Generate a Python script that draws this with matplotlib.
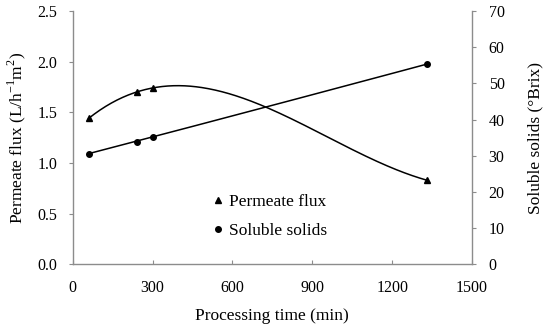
import numpy as np
import matplotlib
matplotlib.use("Agg")
from matplotlib import pyplot as plt

time_min = [60, 240, 300, 1330]
flux = [1.44, 1.70, 1.74, 0.83]
solids = [30.6, 33.9, 35.3, 55.3]

x_ticks = [0, 300, 600, 900, 1200, 1500]
flux_ticks = [0.0, 0.5, 1.0, 1.5, 2.0, 2.5]
solids_ticks = [0, 10, 20, 30, 40, 50, 60, 70]

plt.rcParams['font.family'] = ['Liberation Serif', 'DejaVu Serif']
plt.rcParams['font.size'] = 11.5
plt.rcParams['mathtext.fontset'] = 'custom'
plt.rcParams['mathtext.rm'] = 'Liberation Serif'

spine_col = '#8c8c8c'

fig = plt.figure(figsize=(5.5, 3.32), dpi=100)
ax = fig.add_axes([0.1322, 0.204, 0.726, 0.763])
ax2 = ax.twinx()

# trendlines
tt = np.linspace(time_min[0], time_min[-1], 300)
pf = np.polyfit(time_min, flux, 3)
ax.plot(tt, np.polyval(pf, tt), color='black', lw=1.1)
ps = np.polyfit(time_min, solids, 2)
ax2.plot(tt, np.polyval(ps, tt), color='black', lw=1.1)

h1, = ax.plot(time_min, flux, linestyle='none', marker='^', ms=5,
              color='black', label='Permeate flux')
h2, = ax2.plot(time_min, solids, linestyle='none', marker='o', ms=4,
               color='black', label='Soluble solids')

ax.set_xlim(0, 1500)
ax.set_ylim(0, 2.5)
ax2.set_ylim(0, 70)
ax.set_xticks(x_ticks)
ax.set_yticks(flux_ticks)
ax.set_yticklabels(['%.1f' % v for v in flux_ticks])
ax2.set_yticks(solids_ticks)

for a in (ax, ax2):
    a.spines['top'].set_visible(False)
    for s in ('left', 'right', 'bottom'):
        a.spines[s].set_color(spine_col)
        a.spines[s].set_linewidth(1.0)
ax.spines['right'].set_visible(False)
ax2.spines['left'].set_visible(False)
ax2.spines['bottom'].set_visible(False)

ax.tick_params(axis='x', direction='in', length=3, color=spine_col, pad=11)
ax.tick_params(axis='y', direction='out', length=3, color=spine_col, pad=8)
ax2.tick_params(axis='y', direction='out', length=3, color=spine_col, pad=9)

ax.set_xlabel('Processing time (min)', fontsize=12.5, labelpad=9)
ax.set_ylabel('Permeate flux (L/h$^{-1}$m$^{2}$)', fontsize=12.5, labelpad=7)
ax2.set_ylabel('Soluble solids (°Brix)', fontsize=12.5, labelpad=16)

ax.legend(handles=[h1, h2], loc='center left', bbox_to_anchor=(0.33, 0.19),
          frameon=False, handlelength=0.6, handletextpad=0.3,
          labelspacing=0.75, borderpad=0, fontsize=12.5)

fig.savefig('out.png', dpi=100)
